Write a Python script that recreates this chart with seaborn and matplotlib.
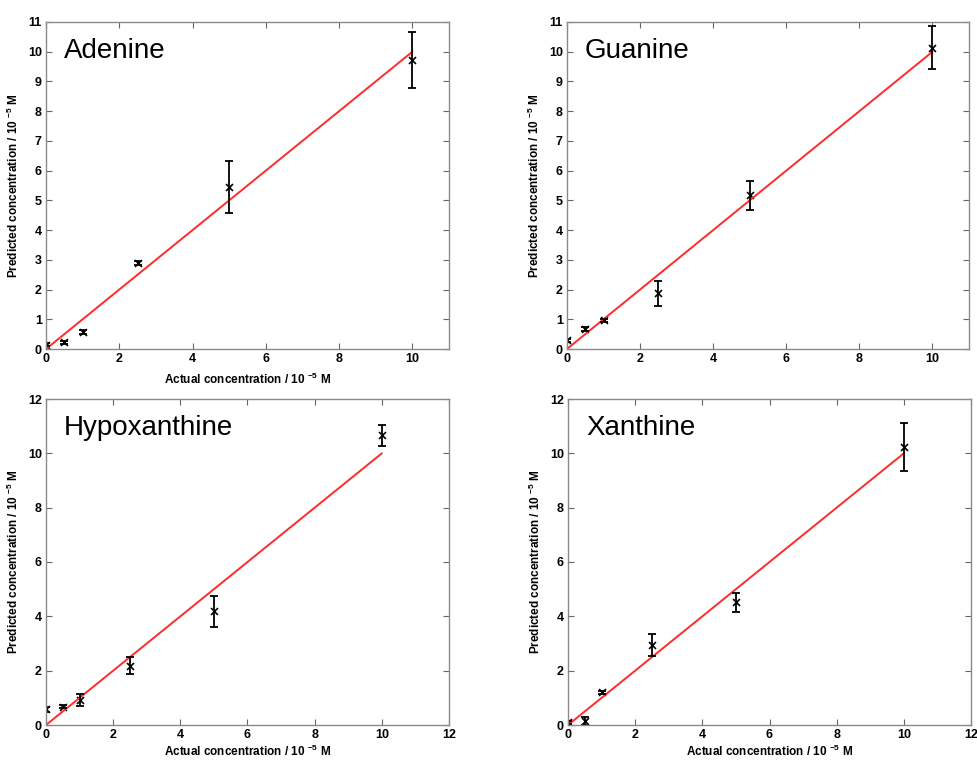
import numpy as np
import pandas as pd
import matplotlib
matplotlib.use("Agg")
import matplotlib.pyplot as plt
import seaborn as sns

# actual concentrations (10^-5 M), shared by all four bases
actual = [0, 0.5, 1, 2.5, 5, 10]

adenine_pred = [0.15, 0.22, 0.57, 2.88, 5.45, 9.72]
adenine_err = [0.05, 0.04, 0.06, 0.07, 0.88, 0.93]

guanine_pred = [0.30, 0.68, 0.96, 1.88, 5.17, 10.14]
guanine_err = [0.05, 0.07, 0.06, 0.42, 0.48, 0.71]

hypox_pred = [0.58, 0.67, 0.93, 2.19, 4.19, 10.66]
hypox_err = [0.10, 0.05, 0.22, 0.30, 0.57, 0.38]

xanthine_pred = [0.10, 0.15, 1.20, 2.95, 4.51, 10.22]
xanthine_err = [0.06, 0.16, 0.06, 0.41, 0.36, 0.88]

names = ["Adenine", "Guanine", "Hypoxanthine", "Xanthine"]
limits = [11, 11, 12, 12]
ideal = [0, 10]

sns.set_style("ticks")
plt.rcParams['font.family'] = ['Liberation Sans', 'DejaVu Sans']
plt.rcParams['mathtext.fontset'] = 'custom'
plt.rcParams['mathtext.rm'] = 'Liberation Sans'
plt.rcParams['mathtext.bf'] = 'Liberation Sans:bold'
plt.rcParams['mathtext.default'] = 'bf'
plt.rcParams['text.color'] = 'black'
plt.rcParams['axes.labelcolor'] = 'black'

data = pd.DataFrame({
    "name": np.repeat(names, len(actual)),
    "actual": actual * 4,
    "pred": adenine_pred + guanine_pred + hypox_pred + xanthine_pred,
    "err": adenine_err + guanine_err + hypox_err + xanthine_err,
})

fig = plt.figure(figsize=(9.78, 7.61), dpi=100)
W, H = 978, 761
boxes = [(46, 22, 403, 327), (567, 22, 402, 327),
         (46, 399, 403, 326), (568, 399, 403, 326)]

for i, name in enumerate(names):
    l, t, w, h = boxes[i]
    ax = fig.add_axes([l / W, (H - t - h) / H, w / W, h / H])
    d = data[data["name"] == name]
    lim = limits[i]

    sns.lineplot(x=ideal, y=ideal, color="#ff2b2b", linewidth=1.4, ax=ax)
    ax.errorbar(d["actual"], d["pred"], yerr=d["err"], fmt="none",
                ecolor="black", elinewidth=1.3, capsize=3, capthick=1.3)
    sns.scatterplot(data=d, x="actual", y="pred", marker="x", color="black",
                    s=25, linewidth=1.2, ax=ax)

    ax.set_xlim(0, lim)
    ax.set_ylim(0, lim)
    ax.set_xticks(np.arange(0, lim + 1, 2))
    ax.set_yticks(np.arange(0, lim + 1, 1 if lim == 11 else 2))
    ax.tick_params(direction="in", length=4, width=0.8, color="#666666",
                   labelcolor="black", top=True, right=True, labelsize=9, pad=3)
    for lab in ax.get_xticklabels() + ax.get_yticklabels():
        lab.set_fontweight("bold")
    for sp in ax.spines.values():
        sp.set_color("#8a8a8a")
        sp.set_linewidth(1.0)

    ax.set_ylabel("Predicted concentration / 10 $^{-5}$ M", fontsize=8.5,
                  fontweight="bold", labelpad=5)
    if name != "Guanine":
        ax.set_xlabel("Actual concentration / 10 $^{-5}$ M", fontsize=8.5,
                      fontweight="bold", labelpad=5 if i < 2 else 2)
    else:
        ax.set_xlabel("")
    ax.text(0.045, 0.91, name, transform=ax.transAxes, fontsize=20,
            ha="left", va="center")

fig.savefig("out.png", dpi=100)
